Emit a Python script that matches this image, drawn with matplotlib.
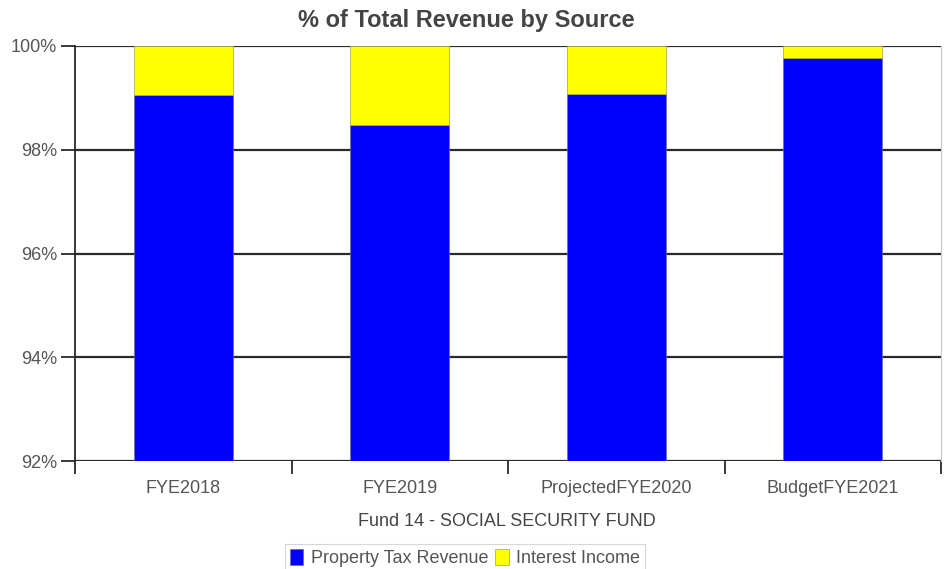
import numpy as np
import matplotlib.pyplot as plt
from matplotlib.patches import Patch

plt.rcParams['font.family'] = ['Liberation Sans', 'DejaVu Sans']

years = ['FYE2018', 'FYE2019', 'ProjectedFYE2020', 'BudgetFYE2021']
property_tax = [99.06, 98.47, 99.08, 99.77]
interest_income = [0.94, 1.53, 0.92, 0.23]

blue = '#0000ff'
yellow = '#ffff00'
grid_c = '#2a2a2a'
text_c = '#555555'

fig = plt.figure(figsize=(9.45, 5.69), dpi=100)
ax = fig.add_axes([75 / 945, 108 / 569, 866 / 945, 415 / 569])

x = np.arange(len(years))
w = 0.455
ax.bar(x, property_tax, w, color=blue, edgecolor='#6a6aa0', linewidth=0.5, zorder=2)
ax.bar(x, interest_income, w, bottom=property_tax, color=yellow,
       edgecolor='#a0a060', linewidth=0.5, zorder=2)

ax.set_xlim(-0.5, len(years) - 0.5)
ax.set_ylim(92, 100)

# horizontal grid
yt = [92, 94, 96, 98, 100]
ax.set_yticks(yt)
ax.set_yticklabels([f'{v}%' for v in yt])
for v in yt:
    ax.axhline(v, color=grid_c, lw=1.6, zorder=1)

ax.tick_params(axis='y', length=10, width=1.3, color=grid_c, pad=3,
               labelsize=13, labelcolor=text_c)

# category labels centred, tick marks on boundaries
ax.set_xticks(x)
ax.set_xticklabels(years)
ax.set_xticks(np.arange(len(years) + 1) - 0.5, minor=True)
ax.tick_params(axis='x', which='major', length=0, pad=14,
               labelsize=13, labelcolor=text_c)
ax.tick_params(axis='x', which='minor', length=9, width=1.3, color=grid_c)

for s in ['top', 'bottom']:
    ax.spines[s].set_visible(False)
ax.spines['left'].set_color(grid_c)
ax.spines['left'].set_linewidth(1.3)
ax.spines['right'].set_color('#c8c8c8')
ax.spines['right'].set_linewidth(0.8)

fig.text(466 / 945, 1 - 20 / 569, '% of Total Revenue by Source',
         ha='center', va='center', fontsize=17, fontweight='bold', color='#444444')
fig.text(507 / 945, 1 - 521 / 569, 'Fund 14 - SOCIAL SECURITY FUND',
         ha='center', va='center', fontsize=13, color='#444444')

handles = [Patch(facecolor=blue, edgecolor='#6a6aa0', lw=0.5),
           Patch(facecolor=yellow, edgecolor='#a0a060', lw=0.5)]
leg = fig.legend(handles, ['Property Tax Revenue', 'Interest Income'],
                 loc='center', bbox_to_anchor=(465 / 945, 1 - 558 / 569),
                 ncol=2, fontsize=13, frameon=True, fancybox=False,
                 handlelength=0.75, handleheight=1.0, handletextpad=0.4,
                 columnspacing=0.4, borderpad=0.25, borderaxespad=0)
leg.get_frame().set_edgecolor('#cccccc')
leg.get_frame().set_linewidth(0.8)
for t in leg.get_texts():
    t.set_color(text_c)

fig.savefig('out.png', dpi=100)
